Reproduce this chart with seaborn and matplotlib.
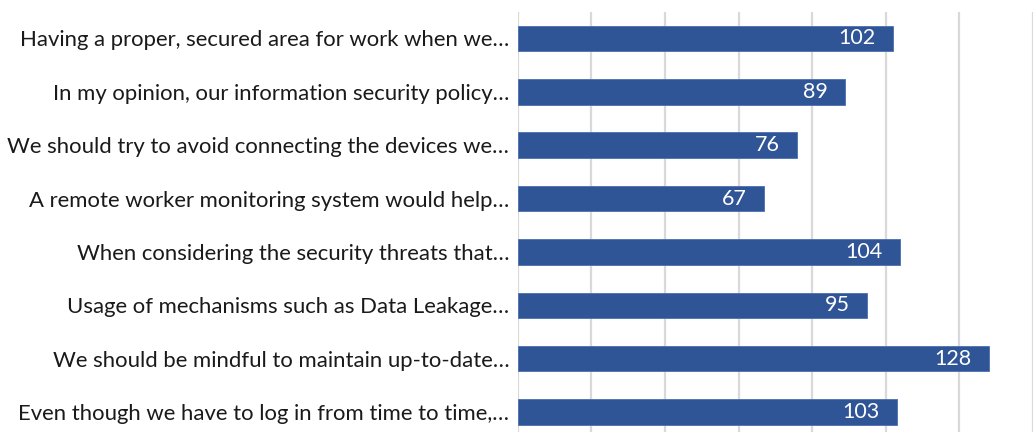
import matplotlib
matplotlib.use("Agg")
import matplotlib.pyplot as plt
import seaborn as sns
import pandas as pd

statements = [
    "Having a proper, secured area for work when we…",
    "In my opinion, our information security policy…",
    "We should try to avoid connecting the devices we…",
    "A remote worker monitoring system would help…",
    "When considering the security threats that…",
    "Usage of mechanisms such as Data Leakage…",
    "We should be mindful to maintain up-to-date…",
    "Even though we have to log in from time to time,…",
]
counts = [102, 89, 76, 67, 104, 95, 128, 103]

df = pd.DataFrame({"statement": statements, "count": counts})

sns.set_theme(style="white")
plt.rcParams["font.family"] = ["Lato", "DejaVu Sans"]

W, H = 1033, 432
fig = plt.figure(figsize=(W / 100, H / 100), dpi=100)
left_px, right_px = 517.7, 1033
px_per_unit = 3.75
top_px = 11.8
ax = fig.add_axes([left_px / W, 0, (right_px - left_px) / W, (H - top_px) / H])

bar_color = "#2F5597"
sns.barplot(data=df, y="statement", x="count", orient="h", color=bar_color,
            width=0.48, saturation=1, edgecolor="#4A6FB0", linewidth=0.6, ax=ax)

ax.set_xlim(0, (right_px - left_px) / px_per_unit)
ax.set_ylim(7.374, -0.5)
ax.set_xticks(range(0, 141, 20))
ax.xaxis.grid(True, color="#D9D9D9", linewidth=1.6)
ax.set_axisbelow(True)
ax.tick_params(axis="x", length=0, labelbottom=False)
ax.tick_params(axis="y", length=0, pad=6, labelsize=15.9, labelcolor="#1A1A1A")
for s in ax.spines.values():
    s.set_visible(False)
ax.set_xlabel("")
ax.set_ylabel("")

# value labels sit inside the bar end, right-aligned
for container in ax.containers:
    ax.bar_label(container, labels=[str(v) for v in counts], label_type="edge",
                 padding=-12.6, color="white", fontsize=15.5)
for t in ax.texts:
    t.set_horizontalalignment("right")

fig.savefig("out.png", dpi=100)
